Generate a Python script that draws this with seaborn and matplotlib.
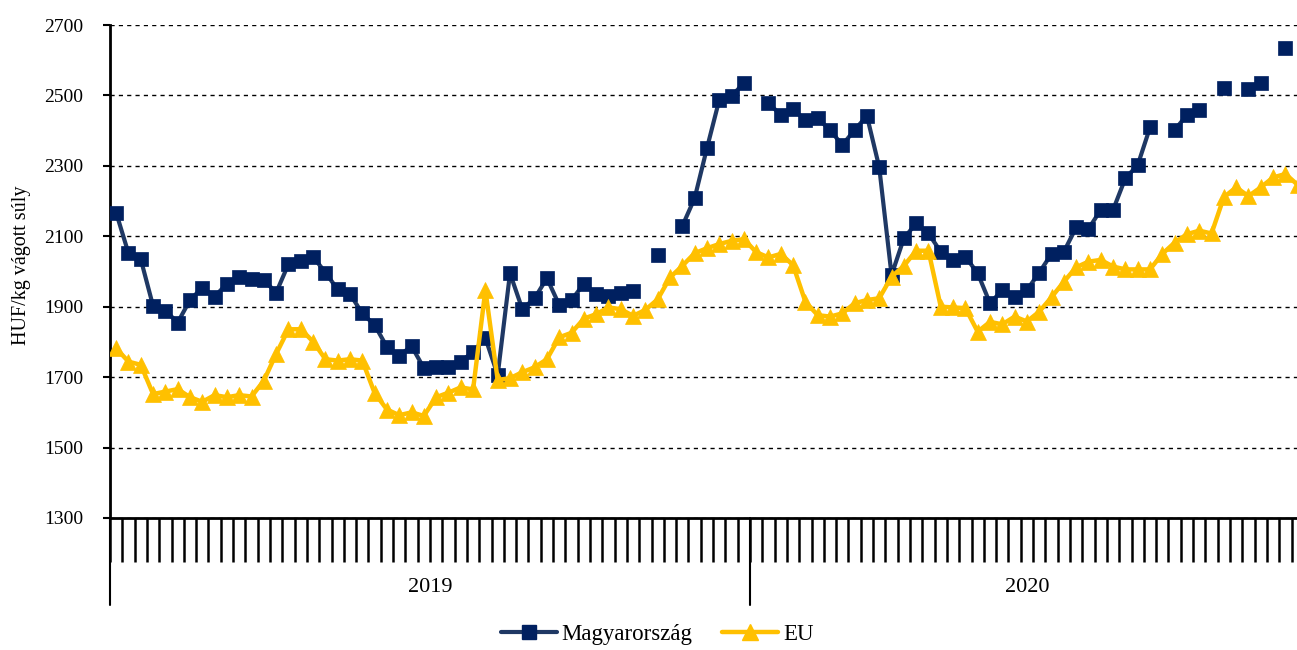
import numpy as np
import pandas as pd
import matplotlib.pyplot as plt
import matplotlib.transforms as mtransforms
from matplotlib.lines import Line2D
import seaborn as sns

nan = np.nan

# Heti adatok (2019: 52 hét, 2020: 45 hét)
years = ['2019', '2020']
weeks_per_year = [52, 45]

hu = [2167, 2052, 2035, 1902, 1889, 1855, 1919, 1954, 1929, 1965,
      1985, 1979, 1976, 1940, 2021, 2030, 2042, 1997, 1949, 1936,
      1881, 1848, 1786, 1761, 1788, 1726, 1730, 1728, 1744, 1772,
      1811, 1706, 1995, 1893, 1924, 1981, 1905, 1919, 1965, 1936,
      1931, 1940, 1945, nan, 2047, nan, 2129, 2208, 2350, 2487,
      2498, 2535,
      nan, 2479, 2444, 2461, 2430, 2435, 2402, 2359, 2402, 2442,
      2296, 1990, 2094, 2137, 2108, 2056, 2033, 2042, 1995, 1910,
      1947, 1928, 1947, 1997, 2050, 2056, 2125, 2121, 2175, 2175,
      2265, 2302, 2409, nan, 2402, 2444, 2459, nan, 2520, nan,
      2517, 2534, nan, 2634, nan]

eu = [1782, 1744, 1735, 1652, 1659, 1666, 1643, 1630, 1649, 1643,
      1649, 1645, 1690, 1766, 1836, 1836, 1801, 1751, 1747, 1751,
      1747, 1655, 1608, 1592, 1600, 1590, 1643, 1656, 1671, 1665,
      1947, 1692, 1697, 1714, 1728, 1751, 1813, 1826, 1866, 1879,
      1898, 1893, 1874, 1891, 1921, 1983, 2016, 2052, 2066, 2078,
      2087, 2092,
      2055, 2040, 2050, 2018, 1914, 1876, 1872, 1881, 1910, 1919,
      1924, 1985, 2016, 2059, 2059, 1900, 1898, 1896, 1829, 1857,
      1850, 1872, 1858, 1886, 1927, 1971, 2012, 2028, 2033, 2014,
      2006, 2006, 2006, 2050, 2082, 2106, 2116, 2108, 2211, 2239,
      2214, 2239, 2267, 2277, 2246]

y_ticks = [1300, 1500, 1700, 1900, 2100, 2300, 2500, 2700]
series_names = ['Magyarország', 'EU']

# Színek
navy = '#002060'
navy_line = '#1F3864'
gold = '#FFC000'

sns.set_theme(style='white')
plt.rcParams['font.family'] = ['Liberation Serif', 'DejaVu Serif']
plt.rcParams['text.color'] = 'black'
plt.rcParams['axes.labelcolor'] = 'black'
plt.rcParams['xtick.color'] = 'black'
plt.rcParams['ytick.color'] = 'black'

n = sum(weeks_per_year)
df = pd.DataFrame({'het': np.arange(n), 'hu': hu, 'eu': eu})
# hiányzó értékeknél megszakad a vonal
df['szakasz'] = df['hu'].isna().cumsum()
df_hu = df.dropna(subset=['hu'])

fig = plt.figure(figsize=(12.97, 6.5), dpi=100)
ax = fig.add_axes([110 / 1297, 1 - 518 / 650, n * 12.3077 / 1297, 493 / 650])

sns.lineplot(data=df_hu, x='het', y='hu', units='szakasz', estimator=None,
             color=navy_line, lw=3, marker='s', ms=10, mfc=navy, mec=navy,
             mew=0.5, legend=False, ax=ax, zorder=3)
sns.lineplot(data=df, x='het', y='eu', estimator=None, color=gold, lw=3.2,
             marker='^', ms=12, mfc=gold, mec=gold, mew=0.5, legend=False,
             ax=ax, zorder=4)

ax.set_xlim(-0.5, n - 0.5)
ax.set_ylim(1300, 2700)
ax.set_yticks(y_ticks)
ax.set_xticks(np.arange(n + 1) - 0.5)
ax.set_xticklabels([])
ax.set_xlabel('')
ax.set_ylabel('')
ax.yaxis.grid(True, linestyle=(0, (3, 3)), color='black', lw=1)
ax.xaxis.grid(False)
ax.tick_params(axis='x', direction='out', length=32, width=1.8, bottom=True)
ax.tick_params(axis='y', direction='out', length=5, width=1.5, labelsize=14,
               pad=14, left=True)
for s in ['top', 'right']:
    ax.spines[s].set_visible(False)
for s in ['left', 'bottom']:
    ax.spines[s].set_linewidth(2)
    ax.spines[s].set_color('black')

# évhatárok és évcímkék
trans = mtransforms.blended_transform_factory(ax.transData, ax.transAxes)
start = 0
for yr, w in zip(years, weeks_per_year):
    ax.plot([start - 0.5, start - 0.5], [0, -(605 - 518) / 493], color='black',
            lw=1.5, transform=trans, clip_on=False)
    ax.text(start - 0.5 + w / 2, -(588 - 518) / 493, yr, transform=trans,
            ha='center', va='center', fontsize=16)
    start += w

fig.text(22 / 1297, 1 - 265 / 650, 'HUF/kg vágott súly', rotation=90,
         ha='center', va='center', fontsize=14.5)

handles = [
    Line2D([], [], color=navy_line, lw=3, marker='s', ms=10, mfc=navy, mec=navy),
    Line2D([], [], color=gold, lw=3.2, marker='^', ms=12, mfc=gold, mec=gold),
]
fig.legend(handles, series_names, loc='center', ncol=2, frameon=False,
           bbox_to_anchor=(657 / 1297, 1 - 634 / 650), fontsize=16.5,
           handlelength=2.45, handletextpad=0.2, columnspacing=1.3,
           borderpad=0.1)

fig.savefig('out.png', dpi=100)
